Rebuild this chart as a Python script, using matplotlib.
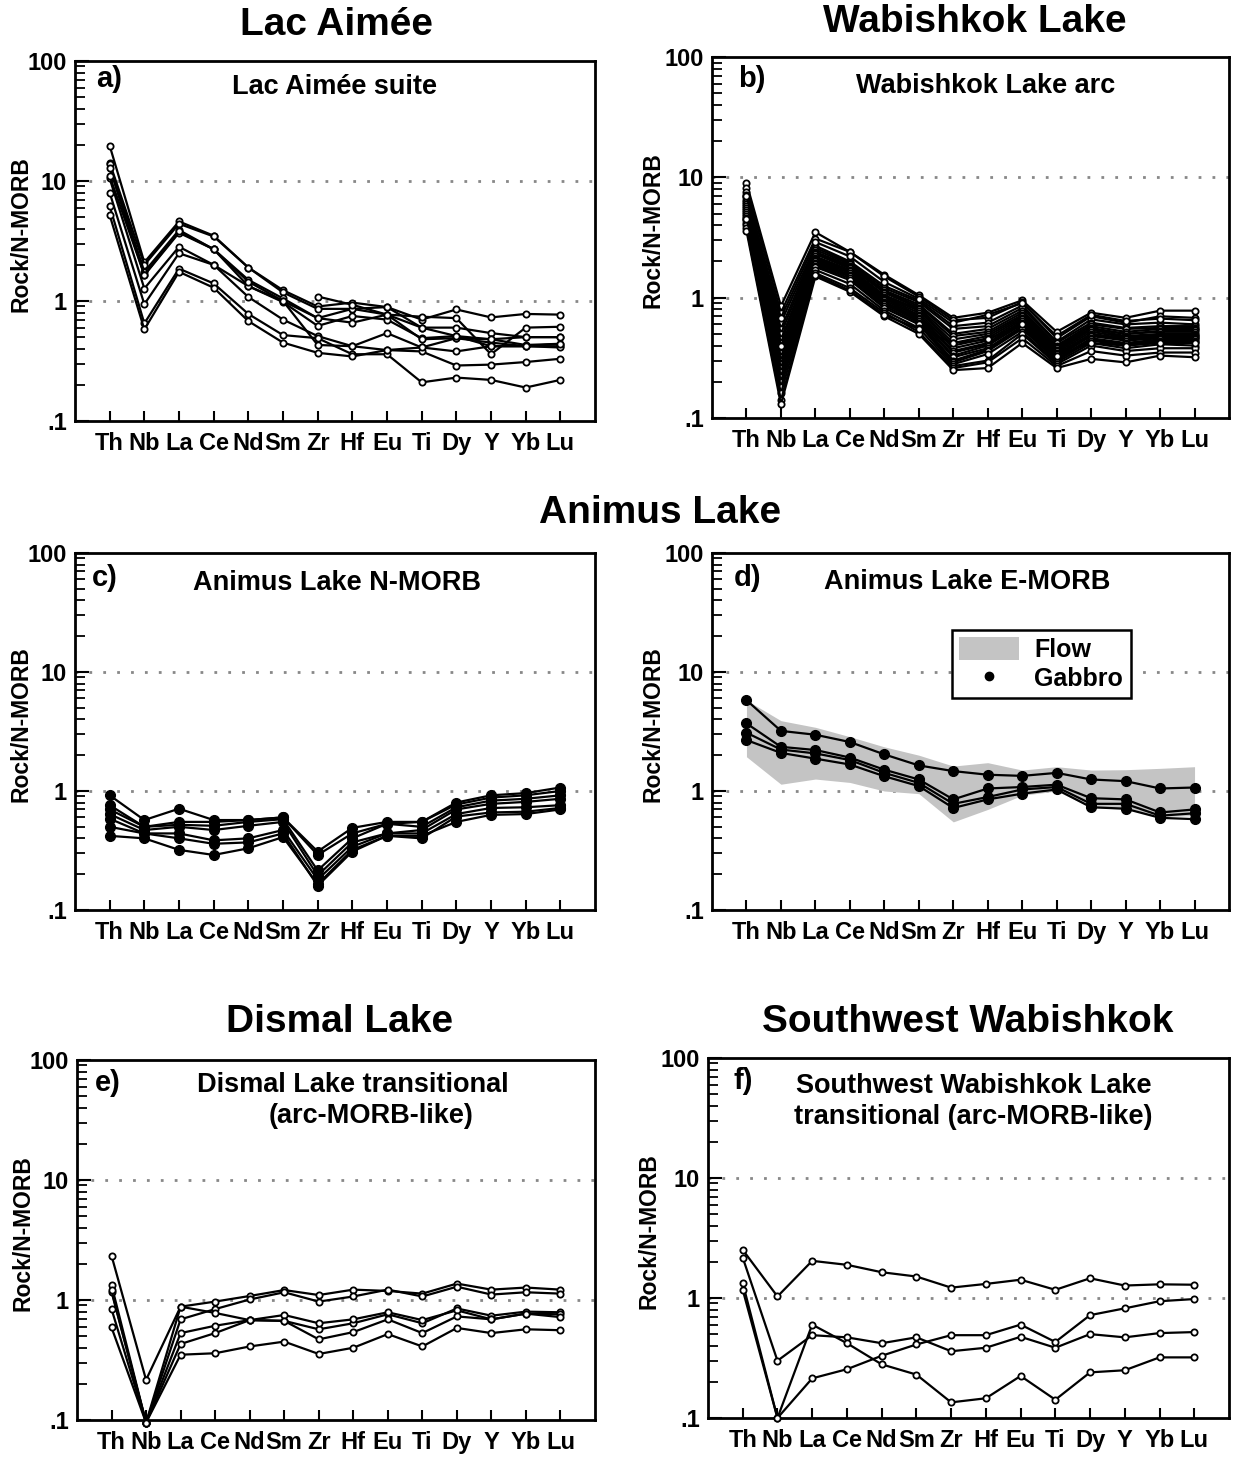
import matplotlib
matplotlib.use("Agg")
import matplotlib.pyplot as plt
from matplotlib.patches import Patch
from matplotlib.lines import Line2D
import numpy as np

plt.rcParams['font.family'] = ['Liberation Sans', 'DejaVu Sans']
plt.rcParams['font.weight'] = 'bold'

nan = np.nan
elements = ['Th', 'Nb', 'La', 'Ce', 'Nd', 'Sm', 'Zr', 'Hf', 'Eu', 'Ti', 'Dy', 'Y', 'Yb', 'Lu']

# a) Lac Aimée suite
lac_aimee = [
    [19.7, 2.1, 4.6, 3.5, 1.9, 1.23, 0.90, 0.97, 0.89, 0.70, 0.85, 0.73, 0.78, 0.77],
    [14.2, 2.0, 4.4, 3.45, 1.9, 1.18, 0.86, 0.86, 0.77, 0.74, 0.72, 0.36, 0.60, 0.61],
    [13.8, 1.75, 3.9, 2.7, 1.5, 1.05, 0.72, 0.86, 0.89, 0.60, 0.60, 0.54, 0.50, 0.50],
    [12.8, 1.64, 3.7, 2.7, 1.33, 0.98, 0.62, 0.75, 0.70, 0.49, 0.51, 0.48, 0.43, 0.44],
    [10.5, 1.27, 2.83, 2.0, 1.33, 1.0, 0.72, 0.66, 0.77, 0.48, 0.49, 0.45, 0.42, 0.42],
    [8.0, 0.94, 2.5, 2.0, 1.08, 0.70, 0.51, 0.42, 0.54, 0.41, 0.38, 0.42, 0.42, 0.41],
    [6.2, 0.65, 1.86, 1.40, 0.78, 0.52, 0.49, 0.36, 0.36, 0.21, 0.23, 0.22, 0.19, 0.22],
    [5.2, 0.58, 1.75, 1.29, 0.68, 0.45, 0.37, 0.345, 0.39, 0.38, 0.29, 0.295, 0.31, 0.33],
    [11.0, 1.65, 3.8, 2.7, 1.45, 1.0, 0.43, 0.42, 0.39, 0.41, 0.49, 0.48, 0.50, 0.50],
    [nan, nan, nan, nan, nan, nan, 1.09, 0.93, 0.77, 0.60, 0.51, 0.42, 0.42, 0.44],
]

# b) Wabishkok Lake arc
wabishkok = [
    [9.0, 0.85, 3.5, 2.4, 1.55, 1.05, 0.68, 0.75, 0.95, 0.52, 0.75, 0.68, 0.78, 0.78],
    [8.2, 0.75, 3.1, 2.4, 1.5, 1.02, 0.65, 0.68, 0.92, 0.46, 0.70, 0.62, 0.70, 0.68],
    [7.6, 0.62, 2.7, 2.0, 1.25, 0.95, 0.58, 0.62, 0.86, 0.43, 0.66, 0.60, 0.62, 0.60],
    [7.2, 0.55, 2.6, 1.95, 1.2, 0.92, 0.55, 0.58, 0.82, 0.42, 0.62, 0.56, 0.58, 0.58],
    [6.8, 0.50, 2.5, 1.9, 1.15, 0.88, 0.50, 0.55, 0.78, 0.40, 0.60, 0.55, 0.56, 0.56],
    [6.5, 0.45, 2.4, 1.85, 1.12, 0.85, 0.48, 0.52, 0.75, 0.39, 0.58, 0.52, 0.55, 0.55],
    [6.2, 0.42, 2.35, 1.8, 1.1, 0.82, 0.45, 0.50, 0.72, 0.38, 0.56, 0.50, 0.53, 0.54],
    [6.0, 0.38, 2.3, 1.75, 1.05, 0.80, 0.42, 0.48, 0.70, 0.37, 0.55, 0.50, 0.52, 0.52],
    [5.8, 0.35, 2.2, 1.7, 1.02, 0.78, 0.40, 0.46, 0.68, 0.36, 0.54, 0.48, 0.50, 0.50],
    [5.6, 0.32, 2.15, 1.68, 1.0, 0.75, 0.38, 0.44, 0.66, 0.35, 0.52, 0.47, 0.49, 0.49],
    [5.4, 0.30, 2.1, 1.65, 0.98, 0.72, 0.36, 0.42, 0.64, 0.34, 0.50, 0.46, 0.48, 0.48],
    [5.2, 0.28, 2.05, 1.6, 0.95, 0.70, 0.35, 0.41, 0.62, 0.33, 0.49, 0.45, 0.47, 0.47],
    [5.0, 0.26, 2.0, 1.55, 0.92, 0.68, 0.33, 0.40, 0.60, 0.32, 0.48, 0.44, 0.46, 0.46],
    [4.8, 0.24, 1.95, 1.52, 0.90, 0.66, 0.32, 0.38, 0.58, 0.31, 0.46, 0.42, 0.45, 0.45],
    [4.6, 0.22, 1.9, 1.5, 0.88, 0.64, 0.30, 0.37, 0.56, 0.30, 0.45, 0.41, 0.44, 0.44],
    [4.4, 0.20, 1.85, 1.45, 0.85, 0.62, 0.29, 0.36, 0.55, 0.30, 0.44, 0.40, 0.43, 0.43],
    [4.2, 0.18, 1.8, 1.4, 0.82, 0.60, 0.28, 0.34, 0.52, 0.29, 0.42, 0.38, 0.41, 0.40],
    [4.0, 0.16, 1.7, 1.3, 0.78, 0.56, 0.27, 0.30, 0.50, 0.28, 0.40, 0.36, 0.38, 0.38],
    [3.8, 0.14, 1.6, 1.2, 0.75, 0.52, 0.26, 0.29, 0.46, 0.27, 0.36, 0.33, 0.35, 0.35],
    [3.6, 0.13, 1.5, 1.12, 0.70, 0.50, 0.25, 0.26, 0.42, 0.26, 0.31, 0.29, 0.33, 0.32],
    [7.0, 0.68, 2.9, 2.2, 1.35, 0.98, 0.62, 0.72, 0.90, 0.48, 0.72, 0.64, 0.67, 0.65],
    [4.5, 0.40, 1.55, 1.15, 0.72, 0.55, 0.42, 0.45, 0.60, 0.33, 0.42, 0.40, 0.42, 0.42],
]

# c) Animus Lake N-MORB
animus_n = [
    [0.92, 0.57, 0.71, 0.57, 0.57, 0.60, 0.31, 0.49, 0.55, 0.55, 0.80, 0.92, 0.96, 1.07],
    [0.76, 0.50, 0.55, 0.55, 0.57, 0.60, 0.29, 0.44, 0.53, 0.55, 0.77, 0.88, 0.92, 1.0],
    [0.70, 0.50, 0.52, 0.51, 0.55, 0.58, 0.215, 0.40, 0.53, 0.50, 0.73, 0.83, 0.86, 0.92],
    [0.64, 0.47, 0.50, 0.47, 0.51, 0.55, 0.195, 0.37, 0.44, 0.47, 0.70, 0.78, 0.81, 0.86],
    [0.585, 0.44, 0.44, 0.385, 0.40, 0.47, 0.18, 0.34, 0.44, 0.44, 0.64, 0.72, 0.73, 0.76],
    [0.50, 0.44, 0.40, 0.36, 0.37, 0.44, 0.16, 0.31, 0.42, 0.40, 0.61, 0.66, 0.67, 0.72],
    [0.42, 0.40, 0.32, 0.29, 0.33, 0.41, 0.165, 0.32, 0.42, 0.42, 0.55, 0.63, 0.64, 0.70],
]

# d) Animus Lake E-MORB (gabbro samples + flow envelope)
animus_e = [
    [5.8, 3.2, 2.97, 2.58, 2.03, 1.64, 1.47, 1.37, 1.34, 1.42, 1.25, 1.21, 1.05, 1.07],
    [3.7, 2.35, 2.21, 1.91, 1.51, 1.25, 0.85, 1.05, 1.08, 1.13, 0.87, 0.85, 0.66, 0.70],
    [3.09, 2.23, 2.07, 1.82, 1.42, 1.17, 0.78, 0.89, 1.03, 1.08, 0.78, 0.78, 0.62, 0.65],
    [2.68, 2.09, 1.87, 1.67, 1.33, 1.10, 0.72, 0.85, 0.95, 1.03, 0.73, 0.71, 0.595, 0.58],
]
flow_upper = [5.8, 3.9, 3.43, 2.86, 2.35, 2.0, 1.62, 1.73, 1.5, 1.6, 1.5, 1.51, 1.55, 1.6]
flow_lower = [1.94, 1.14, 1.26, 1.18, 1.0, 0.95, 0.55, 0.70, 0.92, 1.0, 0.73, 0.70, 0.61, 0.62]

# e) Dismal Lake transitional
dismal = [
    [2.34, 0.216, 0.88, 0.97, 1.08, 1.21, 1.10, 1.22, 1.19, 1.13, 1.37, 1.22, 1.27, 1.22],
    [1.33, 0.095, 0.69, 0.84, 1.01, 1.16, 0.97, 1.07, 1.22, 1.07, 1.29, 1.11, 1.16, 1.13],
    [1.17, 0.095, 0.88, 0.78, 0.68, 0.67, 0.57, 0.64, 0.76, 0.64, 0.85, 0.74, 0.80, 0.79],
    [0.84, 0.095, 0.53, 0.61, 0.68, 0.75, 0.64, 0.69, 0.79, 0.68, 0.82, 0.69, 0.77, 0.76],
    [1.2, 0.095, 0.43, 0.53, 0.68, 0.67, 0.47, 0.54, 0.69, 0.53, 0.73, 0.69, 0.77, 0.72],
    [0.59, 0.095, 0.35, 0.36, 0.41, 0.45, 0.355, 0.40, 0.52, 0.41, 0.585, 0.53, 0.57, 0.56],
]

# f) Southwest Wabishkok Lake transitional
sw_wabishkok = [
    [2.52, 1.03, 2.04, 1.89, 1.64, 1.51, 1.22, 1.31, 1.42, 1.17, 1.46, 1.27, 1.30, 1.29],
    [2.17, 0.30, 0.49, 0.47, 0.42, 0.47, 0.36, 0.385, 0.475, 0.385, 0.50, 0.47, 0.51, 0.52],
    [1.33, 0.1, 0.60, 0.42, 0.28, 0.23, 0.135, 0.146, 0.224, 0.142, 0.24, 0.25, 0.32, 0.32],
    [1.17, 0.1, 0.214, 0.255, 0.33, 0.41, 0.49, 0.49, 0.60, 0.43, 0.72, 0.82, 0.94, 0.98],
]

x = np.arange(len(elements))

fig = plt.figure(figsize=(12.33, 14.62), dpi=100)

# axes boxes in pixels: left, top, right, bottom
boxes = {
    'a': (75, 61, 595, 421),
    'b': (712, 57, 1229, 418),
    'c': (75, 553, 595, 910),
    'd': (712, 553, 1229, 910),
    'e': (77, 1060, 595, 1420),
    'f': (708, 1058, 1229, 1418),
}
W, H = 1233.0, 1462.0


def make_ax(key):
    l, t, r, b = boxes[key]
    ax = fig.add_axes([l / W, 1 - b / H, (r - l) / W, (b - t) / H])
    ax.set_yscale('log')
    ax.set_ylim(0.1, 100)
    ax.set_xlim(-1, 14)
    ax.set_yticks([0.1, 1, 10, 100])
    ax.set_yticklabels(['.1', '1', '10', '100'], fontsize=17, fontweight='bold')
    ax.set_xticks(x)
    ax.set_xticklabels(elements, fontsize=17, fontweight='bold')
    ax.tick_params(axis='x', direction='in', length=7, width=1.5, pad=8, top=False)
    ax.tick_params(axis='y', which='major', direction='in', length=10, width=1.5, pad=6, right=False)
    ax.tick_params(axis='y', which='minor', direction='in', length=7, width=1.3, right=False)
    ax.yaxis.set_minor_formatter(plt.NullFormatter())
    for s in ax.spines.values():
        s.set_linewidth(2)
    for v in [1, 10]:
        ax.axhline(v, color='#888888', linestyle=(0, (1, 4)), lw=2, zorder=0)
    ax.set_ylabel('Rock/N-MORB', fontsize=16.5, fontweight='bold')
    ax.yaxis.set_label_coords(-0.082 if l < 600 else -0.092, 0.52)
    return ax


def draw_open(ax, data):
    for row in data:
        ax.plot(x, row, color='black', lw=1.6, marker='o', ms=4.5,
                mfc='white', mec='black', mew=1.3, clip_on=False, zorder=3)


def draw_filled(ax, data):
    for row in data:
        ax.plot(x, row, color='black', lw=1.6, marker='o', ms=7,
                mfc='black', mec='black', clip_on=False, zorder=3)


def sub(ax, xx, yy, s):
    ax.text(xx, yy, s, transform=ax.transAxes, fontsize=19.5,
            fontweight='bold', ha='center', va='center')


def tag(ax, xx, yy, s):
    ax.text(xx, yy, s, transform=ax.transAxes, fontsize=21, fontweight='bold', va='center')


ax_a = make_ax('a')
draw_open(ax_a, lac_aimee)
tag(ax_a, 0.04, 0.95, 'a)')
sub(ax_a, 0.5, 0.928, 'Lac Aimée suite')

ax_b = make_ax('b')
draw_open(ax_b, wabishkok)
tag(ax_b, 0.05, 0.94, 'b)')
sub(ax_b, 0.53, 0.92, 'Wabishkok Lake arc')

ax_c = make_ax('c')
draw_filled(ax_c, animus_n)
tag(ax_c, 0.033, 0.93, 'c)')
sub(ax_c, 0.504, 0.916, 'Animus Lake N-MORB')

ax_d = make_ax('d')
ax_d.fill_between(x, flow_lower, flow_upper, color='#c4c4c4', lw=0, zorder=1)
draw_filled(ax_d, animus_e)
tag(ax_d, 0.043, 0.93, 'd)')
sub(ax_d, 0.493, 0.92, 'Animus Lake E-MORB')
handles = [Patch(facecolor='#c4c4c4', edgecolor='none', label='Flow'),
           Line2D([], [], color='black', marker='o', ls='none', ms=6, label='Gabbro')]
leg = ax_d.legend(handles=handles, loc='upper left', bbox_to_anchor=(0.44, 0.82),
                  frameon=True, fancybox=False, edgecolor='black', framealpha=1,
                  prop={'size': 18, 'weight': 'bold'}, handlelength=2.4, handleheight=1.0,
                  borderpad=0.3, labelspacing=0.15, handletextpad=0.6)
leg.get_frame().set_linewidth(1.8)

ax_e = make_ax('e')
draw_open(ax_e, dismal)
tag(ax_e, 0.035, 0.935, 'e)')
sub(ax_e, 0.533, 0.93, 'Dismal Lake transitional')
sub(ax_e, 0.567, 0.845, '(arc-MORB-like)')

ax_f = make_ax('f')
draw_open(ax_f, sw_wabishkok)
tag(ax_f, 0.048, 0.935, 'f)')
sub(ax_f, 0.51, 0.922, 'Southwest Wabishkok Lake')
sub(ax_f, 0.51, 0.836, 'transitional (arc-MORB-like)')

# group titles
fig.text(337 / W, 1 - 25 / H, 'Lac Aimée', fontsize=28, fontweight='bold', ha='center', va='center')
fig.text(975 / W, 1 - 22 / H, 'Wabishkok Lake', fontsize=28, fontweight='bold', ha='center', va='center')
fig.text(660 / W, 1 - 513 / H, 'Animus Lake', fontsize=28, fontweight='bold', ha='center', va='center')
fig.text(340 / W, 1 - 1022 / H, 'Dismal Lake', fontsize=28, fontweight='bold', ha='center', va='center')
fig.text(968 / W, 1 - 1022 / H, 'Southwest Wabishkok', fontsize=28, fontweight='bold', ha='center', va='center')

fig.savefig('out.png', dpi=100, facecolor='white')
